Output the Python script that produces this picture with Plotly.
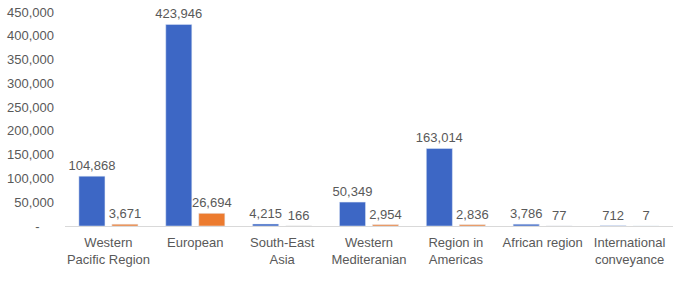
import plotly.graph_objects as go

categories = ["Western<br>Pacific Region", "European", "South-East<br>Asia", "Western<br>Mediteranian",
              "Region in<br>Americas", "African region", "International<br>conveyance"]
cases = [104868, 423946, 4215, 50349, 163014, 3786, 712]
deaths = [3671, 26694, 166, 2954, 2836, 77, 7]
tick_vals = [0, 50000, 100000, 150000, 200000, 250000, 300000, 350000, 400000, 450000]
tick_text = ["-\u00a0\u00a0\u00a0\u00a0", "50,000", "100,000", "150,000", "200,000", "250,000",
             "300,000", "350,000", "400,000", "450,000"]

gray = "#595959"
font = dict(family="Liberation Sans, Arial, sans-serif", size=13, color=gray)

fig = go.Figure()
fig.add_trace(go.Bar(x=categories, y=cases, name="Cases", marker=dict(color="#3D67C5"),
                     text=[f"{v:,}" for v in cases], textposition="outside",
                     textfont=font, cliponaxis=False))
fig.add_trace(go.Bar(x=categories, y=deaths, name="Deaths", marker=dict(color="#EC7B2F"),
                     text=[f"{v:,}" for v in deaths], textposition="outside",
                     textfont=font, cliponaxis=False))

fig.update_layout(
    width=678, height=288,
    margin=dict(l=65, r=5, t=12, b=62),
    paper_bgcolor="white", plot_bgcolor="white",
    showlegend=False, font=font,
    bargap=0.24, bargroupgap=0.21,
    barmode="group",
    uniformtext=dict(minsize=13, mode="show"),
)
fig.update_xaxes(showline=True, linecolor="#D9D9D9", linewidth=1, ticks="", showgrid=False,
                 tickfont=font, ticklabelstandoff=4)
fig.update_yaxes(range=[0, 450000], tickvals=tick_vals, ticktext=tick_text, showgrid=False,
                 zeroline=False, showline=False, tickfont=font, ticks="", ticklabelstandoff=10)

fig.write_html("out.html")
